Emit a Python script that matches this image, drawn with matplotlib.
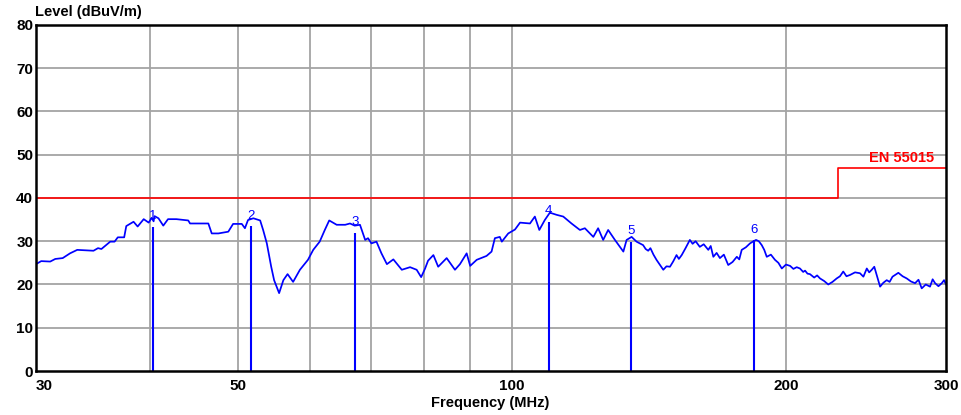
import matplotlib
matplotlib.use("Agg")
import matplotlib.pyplot as plt
from matplotlib.ticker import FixedLocator, NullFormatter, NullLocator

plt.rcParams['font.family'] = ['Liberation Sans', 'DejaVu Sans']

# ---------------------------------------------------------------------------
# Data
# ---------------------------------------------------------------------------

freq_mhz = [
    30.0, 30.4, 31.1, 31.5, 32.1, 32.7, 33.3, 34.7, 35.1, 35.4, 36.2, 36.6,
    36.9, 37.5, 37.7, 38.4, 38.8, 39.4, 39.9, 40.2, 40.4, 40.5, 40.9, 41.4,
    41.9, 42.8, 44.1, 44.3, 45.2, 46.4, 46.8, 47.6, 48.8, 49.4, 50.5, 50.9,
    51.3, 52.0, 52.9, 53.3, 53.8, 54.4, 54.8, 55.5, 56.1, 56.7, 57.5, 58.5,
    59.7, 60.5, 61.5, 62.3, 63.0, 64.2, 65.6, 66.4, 67.2, 68.1, 69.0, 69.5,
    70.1, 71.0, 71.9, 72.9, 74.1, 75.7, 77.3, 78.6, 79.5, 80.3, 80.9, 82.0,
    83.0, 84.8, 86.6, 87.7, 89.2, 90.0, 91.5, 93.8, 95.0, 95.8, 97.0, 97.5,
    99.1, 100.8, 102.1, 104.7, 106.0, 107.2, 108.7, 110.1, 112.0, 113.9,
    116.3, 118.8, 120.3, 122.9, 124.4, 126.0, 127.6, 129.8, 132.6, 133.7,
    135.4, 137.1, 139.4, 140.3, 141.2, 142.0, 143.1, 144.2, 145.4, 146.7,
    147.9, 149.2, 150.4, 151.7, 152.6, 153.7, 155.2, 156.9, 158.0, 159.2,
    160.9, 162.5, 164.4, 165.4, 166.5, 167.9, 169.3, 171.0, 172.9, 174.8,
    176.7, 177.8, 178.9, 180.8, 182.7, 184.0, 185.5, 186.8, 188.2, 189.4,
    190.6, 192.6, 194.6, 196.3, 198.0, 200.1, 202.2, 203.9, 205.6, 207.3,
    209.0, 210.0, 211.3, 212.6, 214.9, 216.5, 218.1, 220.4, 222.7, 225.1,
    227.5, 229.4, 231.3, 233.2, 235.3, 238.3, 241.3, 243.4, 245.5, 247.0,
    248.6, 250.2, 251.5, 253.9, 256.0, 258.2, 260.1, 262.0, 265.9, 268.8,
    271.6, 274.5, 277.4, 279.8, 282.1, 285.0, 288.1, 290.0, 291.8, 294.3,
    296.8, 298.5, 300.0,
]

level_dbuv = [
    24.7, 25.4, 25.3, 25.9, 26.1, 27.2, 28.0, 27.8, 28.4, 28.2, 29.9, 29.9,
    30.9, 30.9, 33.5, 34.5, 33.4, 35.1, 34.3, 35.4, 34.6, 35.8, 35.3, 33.6,
    35.1, 35.1, 34.8, 34.1, 34.1, 34.1, 31.8, 31.8, 32.2, 34.0, 34.0, 33.0,
    34.9, 35.3, 34.8, 32.6, 29.5, 24.1, 21.0, 18.0, 21.0, 22.4, 20.6, 23.4,
    25.7, 28.0, 29.9, 32.6, 34.8, 33.8, 33.8, 34.1, 33.6, 33.8, 30.3, 30.7,
    29.5, 29.9, 27.2, 24.7, 25.8, 23.4, 24.0, 23.4, 21.7, 23.7, 25.5, 26.8,
    24.1, 26.1, 23.4, 24.7, 27.2, 24.3, 25.7, 26.6, 27.6, 30.7, 31.0, 29.9,
    31.8, 32.7, 34.3, 34.1, 35.7, 32.6, 34.9, 36.6, 36.1, 35.7,
    34.1, 32.6, 33.0, 31.0, 33.0, 30.3, 32.6, 30.3, 27.6, 30.3,
    31.0, 29.9, 29.1, 28.2, 27.8, 28.4, 26.9, 25.7, 24.6, 23.4,
    24.2, 24.1, 25.3, 26.8, 25.9, 26.8, 28.4, 30.3, 29.4, 30.0,
    28.7, 29.3, 28.0, 28.9, 26.4, 27.3, 26.1, 26.9, 24.5, 25.2,
    26.4, 25.8, 28.0, 28.6, 29.5, 29.9, 30.3, 30.0, 29.1, 28.0,
    26.4, 26.9, 25.7, 25.0, 23.7, 24.6, 24.3, 23.6, 24.0, 23.7,
    22.9, 23.2, 22.5, 22.4, 21.6, 22.1, 21.4, 20.8, 20.0, 20.6,
    21.4, 21.9, 23.0, 21.9, 22.2, 22.8, 22.6, 21.8, 23.7, 22.8,
    23.4, 24.1, 22.5, 19.5, 20.4, 21.0, 20.6, 21.8, 22.7, 21.9,
    21.4, 20.7, 20.3, 21.1, 19.1, 20.0, 19.5, 21.2, 20.3, 19.6,
    20.3, 21.0, 20.0,
]

# EN 55015 limit (step read at ~228 MHz)
limit_freq = [30, 228, 300]
limit_level = [40, 47, 47]
limit_name = "EN 55015"

# peak markers
marker_ids = ["1", "2", "3", "4", "5", "6"]
marker_freq = [40.3, 51.7, 67.3, 109.8, 135.2, 184.5]
marker_level = [33.4, 33.5, 32.0, 34.5, 29.9, 30.3]

x_grid = [40, 50, 60, 70, 80, 90, 100, 200]
x_ticks = [30, 50, 100, 200, 300]
y_ticks = [0, 10, 20, 30, 40, 50, 60, 70, 80]

# ---------------------------------------------------------------------------
# Plot
# ---------------------------------------------------------------------------

fig = plt.figure(figsize=(9.62, 4.15), dpi=100)
ax = fig.add_axes([0.0374, 0.106, 0.946, 0.834])

ax.set_xscale("log")
ax.set_xlim(30, 300)
ax.set_ylim(0, 80)

# grid
for f in x_grid:
    ax.axvline(f, color="#a4a4a4", lw=1.3, zorder=1)
for y in y_ticks[1:-1]:
    ax.axhline(y, color="#a4a4a4", lw=1.3, zorder=1)

ax.step(limit_freq, limit_level, where="post", color="#ff0000", lw=1.2, zorder=3)
ax.text(291, 47.6, limit_name, color="#ff0000", fontsize=10.5,
        fontweight="bold", ha="right", va="bottom", zorder=4)

ax.plot(freq_mhz, level_dbuv, color="#0000ff", lw=1.25, zorder=4)

for mid, f, lv in zip(marker_ids, marker_freq, marker_level):
    ax.vlines(f, 0, lv, color="#0000ff", lw=1.5, zorder=4)
    ax.text(f, lv + 1.0, mid, color="#0000ff", fontsize=9.5,
            ha="center", va="bottom", zorder=5)

ax.xaxis.set_major_locator(FixedLocator(x_ticks))
ax.xaxis.set_minor_locator(NullLocator())
ax.xaxis.set_minor_formatter(NullFormatter())
ax.set_xticks(x_ticks)
ax.set_xticklabels([str(t) for t in x_ticks], fontsize=11, fontweight="bold")
ax.set_yticks(y_ticks)
ax.set_yticklabels([str(t) for t in y_ticks], fontsize=11, fontweight="bold")
ax.tick_params(axis="both", length=0)
ax.tick_params(axis="x", pad=6)
ax.tick_params(axis="y", pad=2)
xlabels = ax.get_xticklabels()
xlabels[0].set_ha("left")

for side in ["left", "bottom", "top", "right"]:
    ax.spines[side].set_color("black")
    ax.spines[side].set_linewidth(1.8)
    ax.spines[side].set_zorder(6)

fig.text(0.036, 0.972, "Level (dBuV/m)", fontsize=10.5, fontweight="bold",
         ha="left", va="center")
fig.text(0.51, 0.028, "Frequency (MHz)", fontsize=10.5, fontweight="bold",
         ha="center", va="center")

fig.savefig("out.png", dpi=100)
